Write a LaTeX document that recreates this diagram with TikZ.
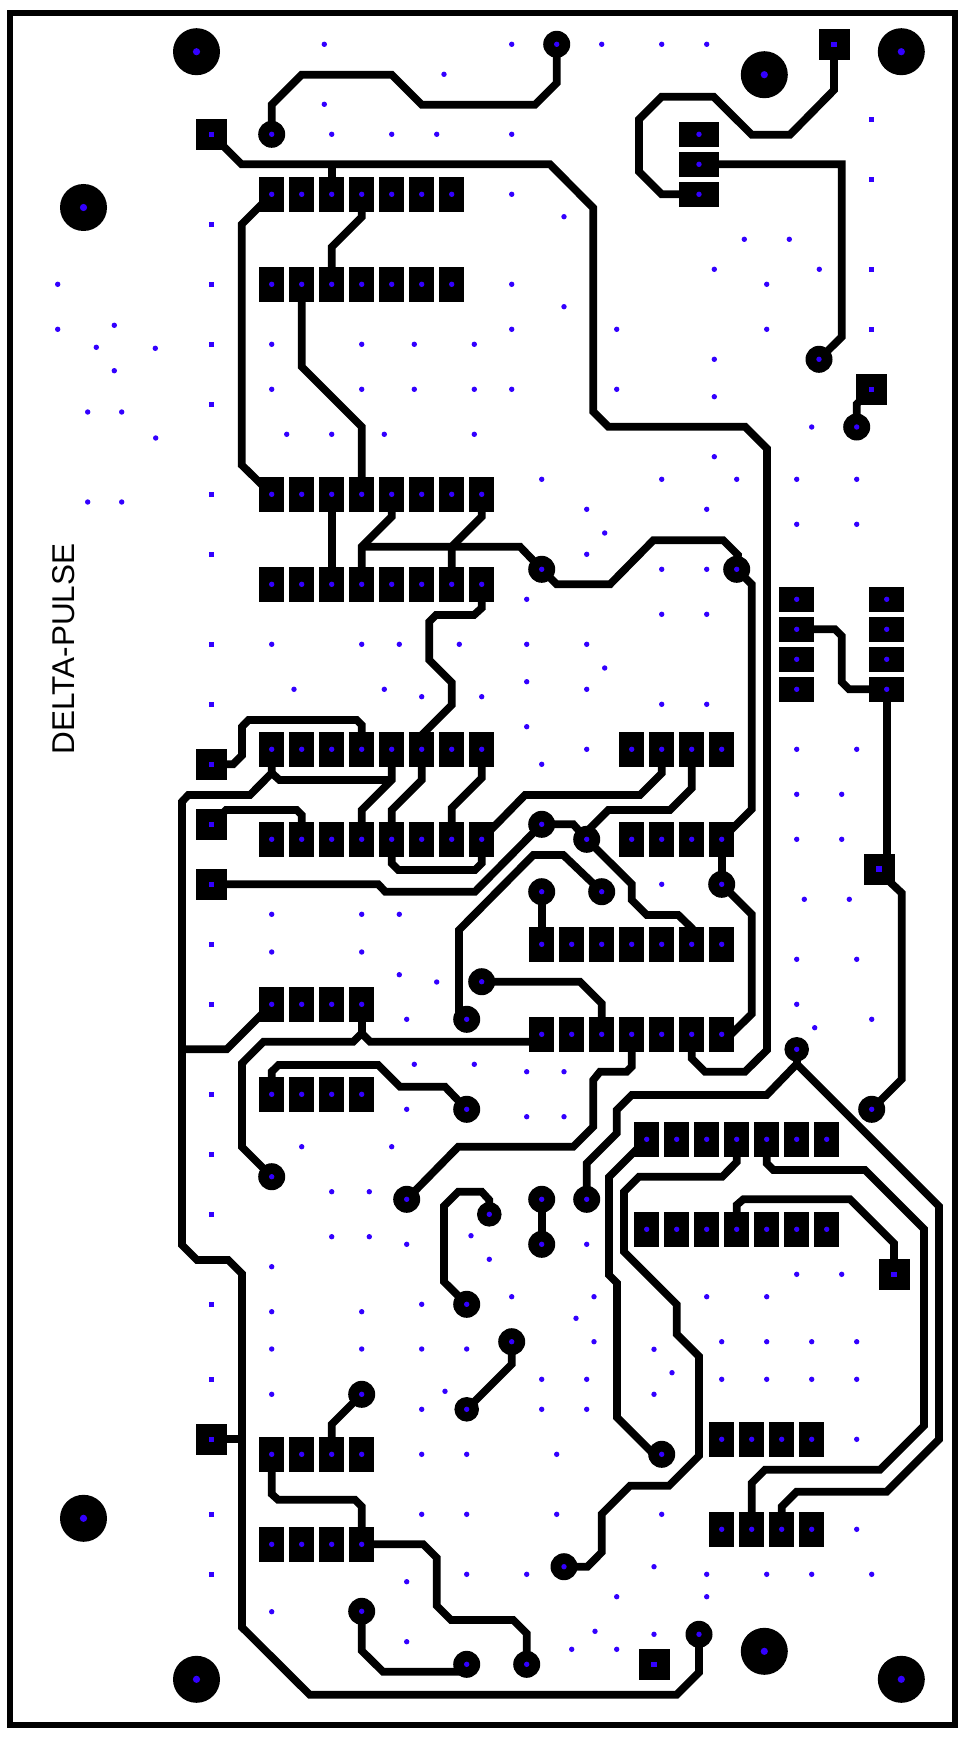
\documentclass[tikz,border=0pt]{standalone}
\usepackage{fontspec}
\setmainfont{Liberation Sans}
\pgfdeclarelayer{tracks}
\pgfsetlayers{tracks,main}
\definecolor{holeblue}{HTML}{3300FF}
\tikzset{
  trace/.style={line width=7.7pt,line join=miter,miter limit=4,draw=black},
  outline/.style={line width=5.5pt,draw=black},
  roundhole/.style={fill=holeblue,draw=none},
  padbase/.style={fill=black,draw=none,inner sep=0pt,outer sep=0pt,
    path picture={\fill[holeblue] (path picture bounding box.center) circle[radius=2.7pt];}},
  tallpad/.style={padbase,rectangle,minimum width=25pt,minimum height=35pt},
  widepad/.style={padbase,rectangle,minimum width=40pt,minimum height=25pt},
  sidepad/.style={padbase,rectangle,minimum width=35pt,minimum height=25pt},
  viapad/.style={padbase,circle,minimum size=27pt},
  smallvia/.style={padbase,circle,minimum size=24.6pt},
  squarepad/.style={fill=black,draw=none,inner sep=0pt,outer sep=0pt,rectangle,minimum size=31pt,
    path picture={\fill[holeblue] ([shift={(-2.7pt,-2.7pt)}]path picture bounding box.center) rectangle ++(5.4pt,5.4pt);}},
  mount/.style={fill=black,draw=none,inner sep=0pt,outer sep=0pt,circle,minimum size=47pt,
    path picture={\fill[holeblue] (path picture bounding box.center) circle[radius=3.6pt];}},
  boardtext/.style={rotate=90,inner sep=0pt,font=\fontsize{31.5}{31.5}\selectfont}
}
\newcommand{\padrow}[3]{\foreach \xx [count=\ii] in {#3} \node[tallpad] (#1\ii) at (\xx,#2) {};}
\begin{document}
\begin{tikzpicture}[x=1pt,y=-1pt]
\useasboundingbox (0,0) rectangle (970,1744);
\begin{pgfonlayer}{tracks}
\fill[white] (0,0) rectangle (970,1744);
\end{pgfonlayer}
\draw[outline] (10,12.8) rectangle (955,1725);
\node[boardtext] (title) at (64,649) {DELTA-PULSE};

% mounting holes
\foreach \x/\y [count=\i] in {196.5/51.7,83.5/207.5,764.3/74.7,901.3/51.7,83.5/1518.3,196.5/1679.3,764.3/1651.3,901.3/1679.3}
  \node[mount] (m\i) at (\x,\y) {};

% pad rows
\padrow{A}{194.3}{271.7,301.7,331.7,361.7,391.7,421.7,451.7}
\padrow{B}{284.3}{271.7,301.7,331.7,361.7,391.7,421.7,451.7}
\padrow{C}{494.3}{271.7,301.7,331.7,361.7,391.7,421.7,451.7,481.7}
\padrow{D}{584.3}{271.7,301.7,331.7,361.7,391.7,421.7,451.7,481.7}
\padrow{E}{749.3}{271.7,301.7,331.7,361.7,391.7,421.7,451.7,481.7}
\padrow{F}{839.3}{271.7,301.7,331.7,361.7,391.7,421.7,451.7,481.7}
\padrow{Er}{749.3}{631.7,661.7,691.7,721.7}
\padrow{Fr}{839.3}{631.7,661.7,691.7,721.7}
\padrow{G}{944.3}{541.7,571.7,601.7,631.7,661.7,691.7,721.7}
\padrow{H}{1034.3}{541.7,571.7,601.7,631.7,661.7,691.7,721.7}
\padrow{I}{1004.3}{271.7,301.7,331.7,361.7}
\padrow{J}{1094.3}{271.7,301.7,331.7,361.7}
\padrow{K}{1139.3}{646.7,676.7,706.7,736.7,766.7,796.7,826.7}
\padrow{L}{1229.3}{646.7,676.7,706.7,736.7,766.7,796.7,826.7}
\padrow{M}{1454.3}{271.7,301.7,331.7,361.7}
\padrow{N}{1544.3}{271.7,301.7,331.7,361.7}
\padrow{O}{1439.3}{721.7,751.7,781.7,811.7}
\padrow{P}{1529.3}{721.7,751.7,781.7,811.7}
\foreach \y [count=\i] in {134.3,164.3,194.3} \node[widepad] (X\i) at (699,\y) {};
\foreach \y [count=\i] in {599.3,629.3,659.3,689.3} {
  \node[sidepad] (Y\i) at (796.7,\y) {};
  \node[sidepad] (Z\i) at (886.7,\y) {};
}

% square pads
\foreach \x/\y [count=\i] in {211.5/134.3,834/44.3,871.3/389.3,211.5/764.3,211.5/824.3,211.5/884.3,879/869,894/1274.3,211.5/1439.3,654/1664.3}
  \node[squarepad] (s\i) at (\x,\y) {};

% vias
\foreach \x/\y/\k [count=\i] in {271.7/134.3/viapad,556.7/44.3/viapad,819/359.3/viapad,856.7/427/viapad,541.7/569.3/viapad,736.7/569.3/viapad,541.7/824.3/viapad,586.7/839.3/viapad,721.7/884.3/viapad,541.7/891.7/viapad,601.7/891.7/viapad,481.7/981.7/viapad,466.7/1019.3/viapad,466.7/1109.3/viapad,271.7/1176.7/viapad,406.7/1199.3/viapad,489.3/1214.3/smallvia,541.7/1199.3/viapad,586.7/1199.3/viapad,541.7/1244.3/viapad,796.7/1049.3/smallvia,871.7/1109.3/viapad,466.7/1304.3/viapad,361.7/1394.3/viapad,466.7/1409.3/smallvia,511.7/1341.7/viapad,661.7/1454.3/viapad,564/1566.7/viapad,361.7/1611.3/viapad,466.7/1664.3/viapad,526.7/1664.3/viapad,699/1634.3/viapad}
  \node[\k] (v\i) at (\x,\y) {};

\begin{pgfonlayer}{tracks}
\draw[trace] (v1.center)--(271.7,104.7)--(301.7,74.7)--(391.7,74.7)--(421.7,104.7)--(535,104.7)--(556.7,83)--(v2.center);
\draw[trace] (s1.center)--(241.5,164.3)--(550,164.3)--(593.3,208)--(593.3,411.7)--(608.3,426.7)--(745,426.7)--(767,448.7)--(767,1050)--(745,1071.7)--(705,1071.7)--(691.7,1058.4)--(H6.center);
\draw[trace] (331.7,164.3)--(A3.center);
\draw[trace] (A4.center)--(361.7,217)--(331.7,247)--(B3.center);
\draw[trace] (A1.center)--(241.7,224.3)--(241.7,465)--(C1.center);
\draw[trace] (B2.center)--(301.7,366.7)--(361.7,426.7)--(C4.center);
\draw[trace] (C3.center)--(D3.center);
\draw[trace] (C5.center)--(391.7,516.7)--(361.7,546.7)--(D4.center);
\draw[trace] (361.7,546.7)--(520,546.7)--(v5.center);
\draw[trace] (C8.center)--(481.7,516.7)--(451.7,546.7)--(D7.center);
\draw[trace] (v5.center)--(556.7,584.3)--(610,584.3)--(653.3,540.3)--(723.3,540.3)--(738,555)--(v6.center);
\draw[trace] (v6.center)--(751.7,584.3)--(751.7,809.3)--(Fr4.center);
\draw[trace] (D8.center)--(481.7,608)--(474,615)--(436,615)--(429.3,621.7)--(429.3,660)--(451.7,682.4)--(451.7,705)--(421.7,735)--(E6.center);
\draw[trace] (s4.center)--(233,764.3)--(242,755.3)--(242,726.7)--(248.5,720)--(356.7,720)--(361.7,725)--(E4.center);
\draw[trace] (E1.center)--(271.7,773)--(250,795)--(188.3,795)--(182,801.7)--(182,1245)--(197,1260)--(228.3,1260)--(242,1273.7)--(242,1627.3)--(309.7,1694.7)--(676.7,1694.7)--(699,1672.4)--(v32.center);
\draw[trace] (271.7,773)--(279.5,780)--(391.7,780);
\draw[trace] (E5.center)--(391.7,780)--(361.7,810)--(F4.center);
\draw[trace] (E6.center)--(421.7,780)--(391.7,810)--(F5.center);
\draw[trace] (E8.center)--(481.7,778)--(451.7,808)--(F7.center);
\draw[trace] (F5.center)--(391.7,863.3)--(398.3,870)--(475,870)--(481.7,863.3)--(F8.center);
\draw[trace] (s5.center)--(226,810)--(296.7,810)--(301.7,815)--(F2.center);
\draw[trace] (s6.center)--(378.3,884.3)--(385.3,891.7)--(475,891.7)--(v7.center);
\draw[trace] (Er2.center)--(661.7,773.3)--(640,795)--(525,795)--(F8.center);
\draw[trace] (Er3.center)--(691.7,788.3)--(670,810)--(608.3,810)--(586.7,831.6)--(v8.center);
\draw[trace] (v7.center)--(573.3,824.3)--(v8.center);
\draw[trace] (v8.center)--(631.7,884)--(631.7,900)--(646.7,915)--(678.3,915)--(691.7,928)--(G6.center);
\draw[trace] (Fr4.center)--(v9.center);
\draw[trace] (v9.center)--(751.7,914.3)--(751.7,1014)--(731,1034.3)--(H7.center);
\draw[trace] (s2.center)--(834,90)--(790,134.7)--(751.7,134.7)--(713.5,96.7)--(661.7,96.7)--(639,119.4)--(639,171.7)--(661.7,194.3)--(X3.center);
\draw[trace] (X2.center)--(841.7,164.3)--(841.7,337)--(v3.center);
\draw[trace] (s3.center)--(856.7,404)--(v4.center);
\draw[trace] (Y2.center)--(835,629.3)--(841.7,636)--(841.7,682)--(849,689.3)--(Z4.center);
\draw[trace] (Z4.center)--(Z4.center |- s7.center);
\draw[trace] (s7.center)--(889.7,881.7)--(901.7,893)--(901.7,1079.3)--(v22.center);
\draw[trace] (v10.center)--(G1.center);
\draw[trace] (v12.center)--(580,981.7)--(601.7,1003.4)--(H3.center);
\draw[trace] (v13.center)--(459,1011)--(459,930)--(533.3,855)--(563.3,855)--(v11.center);
\draw[trace] (v15.center)--(242,1147)--(242,1063.3)--(263.5,1041.7)--(353.3,1041.7)--(361.7,1033.3)--(370,1041.7)--(541.7,1041.7);
\draw[trace] (I4.center)--(361.7,1033.3);
\draw[trace] (I1.center)--(226.7,1049.3)--(182,1049.3);
\draw[trace] (J1.center)--(271.7,1071.7)--(278.5,1065)--(378.3,1065)--(400,1086.7)--(445,1086.7)--(v14.center);
\draw[trace] (v16.center)--(458.3,1146.7)--(573.3,1146.7)--(593.3,1126.7)--(593.3,1080)--(600,1071.7)--(626.7,1071.7)--(631.7,1066.7)--(H4.center);
\draw[trace] (v17.center)--(489.3,1200)--(481.7,1191.7)--(458.3,1191.7)--(444,1206)--(444,1281.7)--(v23.center);
\draw[trace] (v18.center)--(v20.center);
\draw[trace] (v19.center)--(586.7,1163.3)--(616.7,1133.3)--(616.7,1110)--(631.7,1095)--(766.7,1095)--(796.7,1064)--(939,1206.3)--(939,1439.4)--(886.7,1491.7)--(796.7,1491.7)--(781.7,1506.7)--(P3.center);
\draw[trace] (v21.center)--(796.7,1064);
\draw[trace] (K5.center)--(766.7,1163.3)--(773.3,1170)--(865,1170)--(924,1229)--(924,1425.7)--(880,1469.7)--(765,1469.7)--(751.7,1483)--(P2.center);
\draw[trace] (K1.center)--(609,1177)--(609,1275)--(617,1283)--(617,1417.3)--(654,1454.3)--(v27.center);
\draw[trace] (K4.center)--(736.7,1162)--(722.3,1176.7)--(639,1176.7)--(624,1191.7)--(624,1251.7)--(676.7,1304.4)--(676.7,1334)--(699,1356.3)--(699,1455.7)--(669,1485.7)--(630,1485.7)--(601.7,1514)--(601.7,1552.3)--(587.4,1566.7)--(v28.center);
\draw[trace] (L4.center)--(736.7,1205)--(743.3,1199.3)--(850,1199.3)--(894,1243.3)--(s8.center);
\draw[trace] (v24.center)--(331.7,1424.3)--(M3.center);
\draw[trace] (M1.center)--(271.7,1494)--(278,1499.7)--(355,1499.7)--(361.7,1506.4)--(N4.center);
\draw[trace] (N4.center)--(423.3,1544.3)--(436.7,1557.7)--(436.7,1605.7)--(451,1620)--(513.3,1620)--(526.7,1633.4)--(v31.center);
\draw[trace] (v29.center)--(361.7,1650.7)--(383,1671.7)--(460,1671.7);
\draw[trace] (s9.center)--(242,1439.3);
\draw[trace] (v25.center)--(511.7,1364.3)--(v26.center);
\end{pgfonlayer}

% free-standing square holes
\foreach \x/\y in {211.5/224.3,211.5/284.3,211.5/344.3,211.5/404.3,211.5/494.3,211.5/554.3,211.5/644.3,211.5/704.3,211.5/944.3,211.5/1004.3,211.5/1094.3,211.5/1154.3,211.5/1214.3,211.5/1304.3,211.5/1379.3,211.5/1514.3,211.5/1574.3,871.7/119.3,871.7/179.3,871.7/269.3,871.7/329.3}
  \fill[holeblue] ({\x-2.6},{\y-2.6}) rectangle ({\x+2.6},{\y+2.6});

% free-standing round holes
\foreach \x/\y in {324.3/44.3,444/74.3,324.3/104.3,331.7/134.3,391.7/134.3,436.7/134.3,57.7/284.3,57.7/329.3,114.3/325.3,96.3/347.3,155.3/348.3,114.3/370.7,87.7/412,121.7/412,155.7/438,271.7/344.3,361.7/344.3,414.3/344.3,474.3/344.3,271.7/389.3,361.7/389.3,414.3/389.3,474.3/389.3,286.7/434.3,331.7/434.3,384.3/434.3,474.3/434.3,
511.7/44.3,601.7/44.3,661.7/44.3,706.7/44.3,511.7/134.3,511.7/194.3,564/216.7,744.3/239.3,789.3/239.3,714.3/269.3,819.3/269.3,766.7/284.3,511.7/284.3,564/306.7,511.7/329.3,616.7/329.3,766.7/329.3,714.3/359.3,511.7/389.3,616.7/389.3,714.3/396.7,811.7/427,
87.7/502,121.7/502,271.7/644.3,361.7/644.3,399.3/644.3,459.3/644.3,294/689.3,384.3/689.3,421.7/696.7,481.7/696.7,
714.3/456.7,541.7/479.3,661.7/479.3,736.7/479.3,796.7/479.3,856.7/479.3,586.7/509.3,706.7/509.3,796.7/524.3,856.7/524.3,604.7/533,586.7/554.3,661.7/569.3,706.7/569.3,526.7/599.3,661.7/614.3,706.7/614.3,526.7/644.3,586.7/644.3,604.7/668,526.7/681.7,586.7/689.3,661.7/704.3,706.7/704.3,526.7/726.7,586.7/749.3,541.7/764.3,796.7/749.3,856.7/749.3,796.7/794.3,841.7/794.3,796.7/839.3,841.7/839.3,
271.7/914.3,361.7/914.3,399.3/914.3,271.7/952,361.7/952,399.3/974.7,436.7/982,406.7/1019.3,414.3/1064.3,474.3/1064.3,406.7/1109.3,301.7/1146.7,391.7/1146.7,331.7/1191.7,369.3/1191.7,331.7/1236.7,369.3/1236.7,406.7/1244.3,471/1235.7,271.7/1266.7,421.7/1304.3,271.7/1311.7,361.7/1311.7,
661.7/884.3,804.3/899.3,849.3/899.3,796.7/959.3,856.7/959.3,796.7/1004.3,871.7/1019.3,814.7/1027.7,526.7/1071.7,564/1071.7,526.7/1116.7,564/1116.7,586.7/1244.3,489.3/1259.3,796.7/1274.3,841.7/1274.3,511.7/1296.7,594/1296.7,706.7/1296.7,766.7/1296.7,576/1318.3,
271.7/1349,361.7/1349,421.7/1349,466.7/1349,271.7/1394.3,445/1391.3,421.7/1409.3,421.7/1454.3,466.7/1454.3,421.7/1514.3,466.7/1514.3,466.7/1574.3,406.7/1581.7,271.7/1611.7,406.7/1641.7,
594/1341.7,654/1349.3,672/1372.7,654/1394.3,541.7/1379.3,586.7/1379.3,541.7/1409.3,586.7/1409.3,721.7/1341.7,766.7/1341.7,811.7/1341.7,856.7/1341.7,721.7/1379.3,766.7/1379.3,811.7/1379.3,856.7/1379.3,556.7/1454.3,856.7/1439.3,556.7/1514.3,661.7/1514.3,856.7/1529.3,654/1566.7,526.7/1574.3,706.7/1574.3,766.7/1574.3,811.7/1574.3,871.7/1574.3,616.7/1596.7,706.7/1596.7,595/1631.3,654/1634.3,571.7/1649.3,616.7/1649.3}
  \fill[roundhole] (\x,\y) circle[radius=2.7pt];
\end{tikzpicture}
\end{document}
